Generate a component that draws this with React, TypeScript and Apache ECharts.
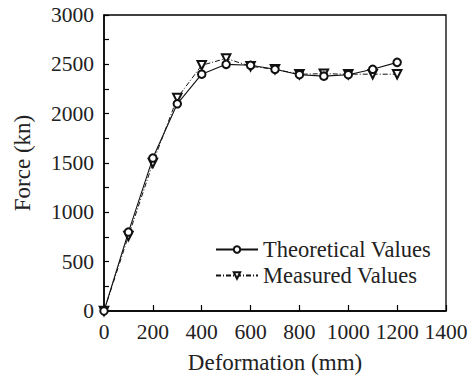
import React, { useEffect, useRef } from "react";
import * as echarts from "echarts";

const deformation = [0, 100, 200, 300, 400, 500, 600, 700, 800, 900, 1000, 1100, 1200];
const theoretical = [0, 800, 1550, 2100, 2400, 2500, 2490, 2450, 2395, 2380, 2395, 2450, 2520];
const measured = [0, 760, 1500, 2160, 2490, 2560, 2480, 2450, 2400, 2405, 2400, 2400, 2400];

const FONT = "'Liberation Serif', 'Times New Roman', serif";
const TICK_FS = 21.5;
const LEG_FS = 22.5;
const NAME_FS = 23;

export default function App() {
  const ref = useRef<HTMLDivElement>(null);
  useEffect(() => {
    if (!ref.current) return;
    const chart = echarts.init(ref.current, undefined, { renderer: "svg" });
    const pair = (ys: number[]) => deformation.map((x, i) => [x, ys[i]]);
    chart.setOption({
      animation: false,
      backgroundColor: "#fff",
      textStyle: { fontFamily: FONT, color: "#000" },
      grid: {
        left: 104, right: 28, top: 15, bottom: 67,
        show: true, borderColor: "#000", borderWidth: 1.3,
      },
      legend: {
        orient: "vertical",
        left: 210,
        top: 233,
        itemWidth: 42,
        itemHeight: 8,
        itemGap: 3,
        textStyle: { fontFamily: FONT, fontSize: LEG_FS, color: "#222" },
        data: ["Theoretical Values", "Measured Values"],
      },
      xAxis: {
        type: "value",
        min: 0, max: 1400, interval: 200,
        name: "Deformation (mm)",
        nameLocation: "middle",
        nameGap: 40,
        nameTextStyle: { fontFamily: FONT, fontSize: NAME_FS, color: "#222" },
        axisLine: { lineStyle: { color: "#000", width: 1.5 } },
        axisTick: { inside: true, length: 6, lineStyle: { color: "#000", width: 1.2 } },
        axisLabel: { fontFamily: FONT, fontSize: TICK_FS, color: "#222", margin: 10, formatter: (v: number) => String(v) },
        splitLine: { show: false },
      },
      yAxis: {
        type: "value",
        min: 0, max: 3000, interval: 500,
        name: "Force (kn)",
        nameLocation: "middle",
        nameGap: 70,
        nameTextStyle: { fontFamily: FONT, fontSize: NAME_FS, color: "#222" },
        axisLine: { show: true, lineStyle: { color: "#000", width: 1.5 } },
        axisTick: { show: true, inside: true, length: 5, lineStyle: { color: "#000", width: 1.2 } },
        minorTick: { show: true, splitNumber: 2, length: 5, lineStyle: { color: "#000", width: 1.2 } },
        axisLabel: { fontFamily: FONT, fontSize: TICK_FS, color: "#222", margin: 10, formatter: (v: number) => String(v) },
        splitLine: { show: false },
      },
      series: [
        {
          name: "Theoretical Values",
          type: "line",
          data: pair(theoretical),
          symbol: "emptyCircle",
          symbolSize: 7.5,
          showAllSymbol: true,
          z: 3,
          lineStyle: { color: "#111", width: 1.1 },
          itemStyle: { color: "#111", borderColor: "#111", borderWidth: 1 },
        },
        {
          name: "Measured Values",
          type: "line",
          data: pair(measured),
          symbol: "emptyTriangle",
          symbolRotate: 180,
          symbolSize: 8.5,
          showAllSymbol: true,
          z: 2,
          lineStyle: { color: "#111", width: 1, type: [5, 2, 1, 2] },
          itemStyle: { color: "#111", borderColor: "#111", borderWidth: 1 },
        },
      ],
    });
    return () => chart.dispose();
  }, []);
  return <div ref={ref} style={{ width: 474, height: 379, position: "absolute", left: 0, top: 0 }} />;
}
